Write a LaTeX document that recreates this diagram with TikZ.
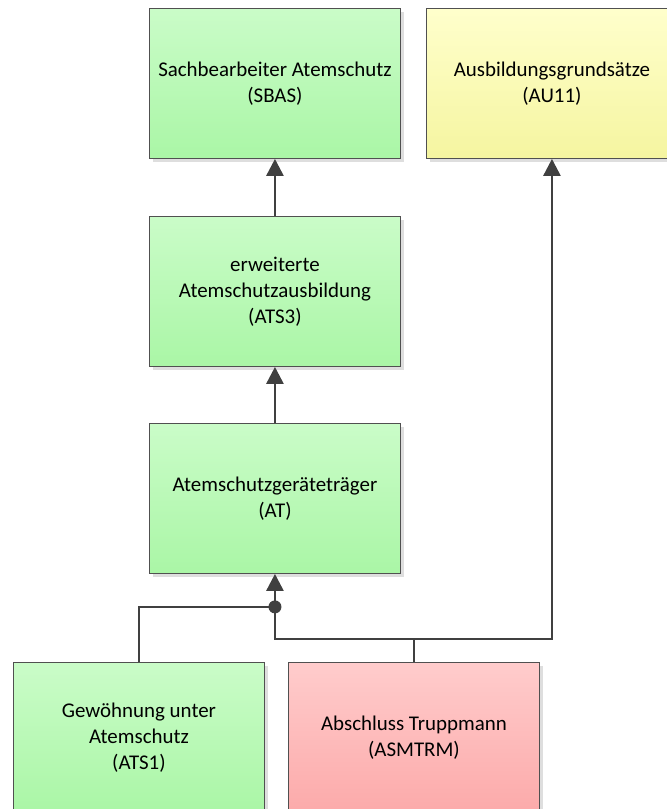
\documentclass[tikz,border=0pt]{standalone}
\usepackage{fontspec}
\setmainfont{Carlito}
\usetikzlibrary{arrows.meta,shadows}
\definecolor{edgegray}{RGB}{80,80,80}
\definecolor{linegray}{RGB}{64,64,64}
\definecolor{shadowgray}{RGB}{222,222,222}
\definecolor{greentop}{RGB}{202,252,200}
\definecolor{greenbot}{RGB}{170,246,166}
\definecolor{yellowtop}{RGB}{255,255,204}
\definecolor{yellowbot}{RGB}{245,245,160}
\definecolor{redtop}{RGB}{255,204,204}
\definecolor{redbot}{RGB}{252,170,170}
\begin{document}
\begin{tikzpicture}
    [ x=1bp, y=-1bp
    , course/.style={draw=edgegray, line width=0.9bp, anchor=north west,
        minimum width=251bp, minimum height=150bp, inner sep=0pt,
        align=center, font=\fontsize{21}{26}\selectfont,
        drop shadow={shadow xshift=4bp, shadow yshift=-4bp, fill=shadowgray, opacity=1}}
    , green/.style={course, top color=greentop, bottom color=greenbot}
    , yellow/.style={course, top color=yellowtop, bottom color=yellowbot}
    , red/.style={course, top color=redtop, bottom color=redbot}
    , link/.style={draw=linegray, line width=2.6bp}
    , arrow/.style={link, -{Triangle[length=17bp, width=17bp]}}
    ]
\useasboundingbox (0,0) rectangle (667,809);
\node[green] (sbas) at (149,8) {Sachbearbeiter Atemschutz\\(SBAS)};
\node[yellow] (au11) at (426,8) {Ausbildungsgrundsätze\\(AU11)};
\node[green] (ats3) at (149,216) {erweiterte\\Atemschutzausbildung\\(ATS3)};
\node[green] (atg) at (149,423) {Atemschutzgeräteträger\\(AT)};
\node[green] (ats1) at (13,662) {Gewöhnung unter\\Atemschutz\\(ATS1)};
\node[red] (asmtrm) at (288,662) {Abschluss Truppmann\\(ASMTRM)};

\coordinate (merge) at ([yshift=-33bp]atg.south);
\coordinate (split) at ([yshift=23bp]asmtrm.north);

\draw[arrow] (ats3) -- (sbas);
\draw[arrow] (atg) -- (ats3);
\draw[link] (ats1.north) |- (merge);
\draw[link] (asmtrm.north) -- (split) -| (merge);
\draw[arrow] (merge) -- (atg.south);
\draw[arrow] (split) -| (au11.south);
\fill[linegray] (merge) circle (6.5bp);
\end{tikzpicture}
\end{document}
